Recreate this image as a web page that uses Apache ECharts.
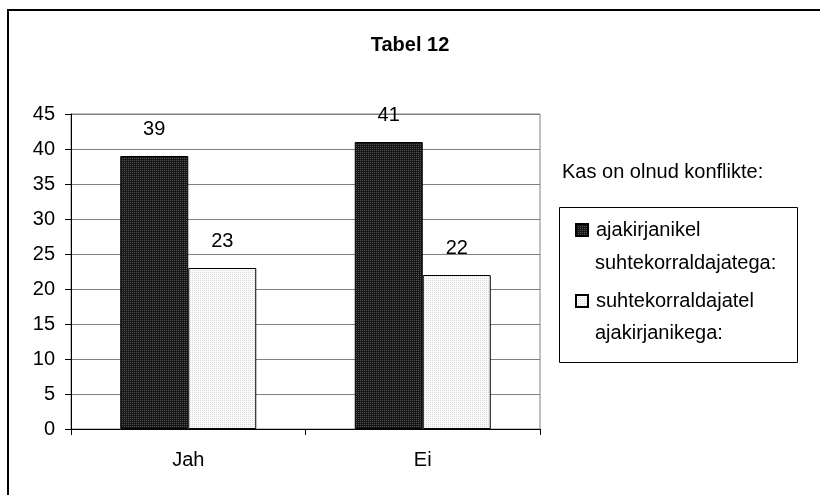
<!DOCTYPE html>
<html>
<head>
<meta charset="utf-8">
<script src="https://cdn.jsdelivr.net/npm/echarts@6/dist/echarts.min.js"></script>
<style>
  html, body { margin: 0; padding: 0; background: #fff; }
  #chart { width: 820px; height: 495px; }
</style>
</head>
<body>
<div id="chart"></div>
<script>
// Survey answers: has there been conflict?
const categories = ['Jah', 'Ei'];
const journalistsWithPR = [39, 41];   // ajakirjanikel suhtekorraldajatega
const prWithJournalists = [23, 22];   // suhtekorraldajatel ajakirjanikega
const seriesNames = ['ajakirjanikel', 'suhtekorraldajatel'];
const seriesSecondLines = ['suhtekorraldajatega:', 'ajakirjanikega:'];
const yTicks = { min: 0, max: 45, step: 5 };

// Small dotted fill textures, like a classic spreadsheet chart
function dotPattern(base, dot) {
  const c = document.createElement('canvas');
  c.width = 2; c.height = 2;
  const ctx = c.getContext('2d');
  ctx.fillStyle = base; ctx.fillRect(0, 0, 2, 2);
  ctx.fillStyle = dot; ctx.fillRect(0, 0, 1, 1);
  return { image: c, repeat: 'repeat' };
}
const darkFill = dotPattern('#161616', '#555555');
const lightFill = dotPattern('#fbfbfb', '#d9d9d9');

const font = '"Liberation Sans", Arial, sans-serif';
const fs = 20;
const chart = echarts.init(document.getElementById('chart'), null, { renderer: 'canvas' });

chart.setOption({
  animation: false,
  backgroundColor: '#fff',
  title: {
    text: 'Tabel 12',
    left: 'center',
    top: 30,
    textStyle: { fontFamily: font, fontSize: 20, fontWeight: 'bold', color: '#000' }
  },
  grid: {
    left: 71, right: 280, top: 114, bottom: 66,
    show: true, borderColor: '#808080', borderWidth: 1
  },
  legend: {
    orient: 'vertical',
    left: 570, top: 215,
    itemWidth: 12, itemHeight: 12,
    itemGap: 51,
    icon: 'rect',
    data: seriesNames,
    textStyle: { fontFamily: font, fontSize: fs, color: '#000', lineHeight: 20, padding: [0, 0, 0, 3] }
  },
  xAxis: {
    type: 'category',
    data: categories,
    boundaryGap: true,
    axisLine: { lineStyle: { color: '#000', width: 1 } },
    axisTick: { show: true, inside: false, length: 6, alignWithLabel: false, lineStyle: { color: '#000' } },
    axisLabel: { fontFamily: font, fontSize: fs, color: '#000', margin: 21 },
    splitLine: { show: false }
  },
  yAxis: {
    type: 'value',
    min: yTicks.min, max: yTicks.max, interval: yTicks.step,
    axisLine: { show: true, lineStyle: { color: '#000', width: 1 } },
    axisTick: { show: true, inside: false, length: 6, lineStyle: { color: '#000' } },
    axisLabel: { fontFamily: font, fontSize: fs, color: '#000', margin: 16 },
    splitLine: { show: true, lineStyle: { color: '#808080', width: 1 } }
  },
  series: [
    {
      name: seriesNames[0],
      type: 'bar',
      data: journalistsWithPR,
      barGap: '0%',
      barCategoryGap: '42%',
      itemStyle: { color: darkFill, borderColor: '#000', borderWidth: 1 },
      label: { show: true, position: 'top', distance: 17, fontFamily: font, fontSize: fs, color: '#000' }
    },
    {
      name: seriesNames[1],
      type: 'bar',
      data: prWithJournalists,
      barGap: '0%',
      barCategoryGap: '42%',
      itemStyle: { color: lightFill, borderColor: '#000', borderWidth: 1 },
      label: { show: true, position: 'top', distance: 17, fontFamily: font, fontSize: fs, color: '#000' }
    }
  ],
  graphic: [
    // outer chart frame
    { type: 'rect', shape: { x: 8, y: 10, width: 1000, height: 1000 },
      style: { fill: null, stroke: '#000', lineWidth: 2 }, silent: true, z: 100 },
    // legend heading
    { type: 'text', left: 562, top: 162,
      style: { text: 'Kas on olnud konflikte:', font: fs + 'px ' + font, fill: '#000' } },
    // legend box
    { type: 'rect', shape: { x: 559.5, y: 207.5, width: 238, height: 155 },
      style: { fill: null, stroke: '#000', lineWidth: 1 }, silent: true },
    // second lines of the legend entries
    { type: 'text', left: 595, top: 253,
      style: { text: seriesSecondLines[0], font: fs + 'px ' + font, fill: '#000' } },
    { type: 'text', left: 595, top: 323,
      style: { text: seriesSecondLines[1], font: fs + 'px ' + font, fill: '#000' } }
  ]
});
</script>
</body>
</html>
